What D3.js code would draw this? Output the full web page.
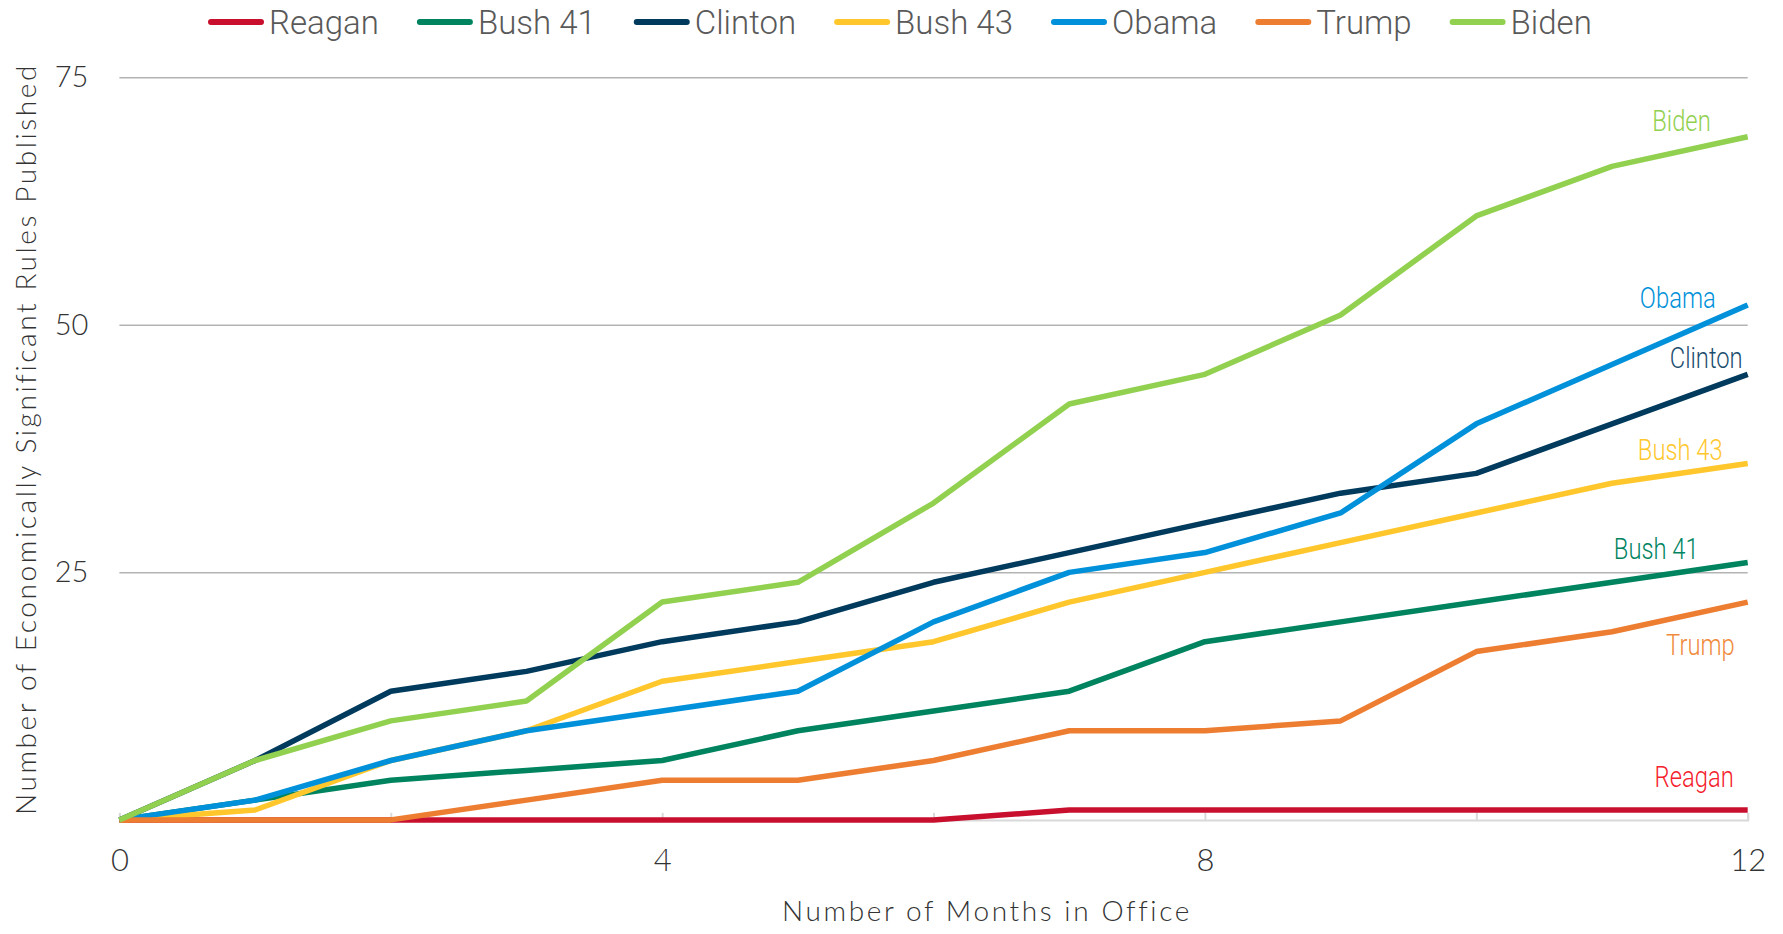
<!DOCTYPE html>
<html lang="en">
<head>
    <meta charset="UTF-8">
    <title>Economically Significant Rules Published</title>
    <script src="https://cdnjs.cloudflare.com/ajax/libs/d3/7.8.5/d3.min.js"></script>
    <style>
        body { margin: 0; background: #fff; }
        svg { display: block; }
        .tick-label { font-family: Lato, sans-serif; font-weight: 300; fill: #333; }
        .title { font-family: Lato, sans-serif; font-weight: 300; fill: #333; font-size: 28px; letter-spacing: 2.6px; }
        .legend text { font-family: Roboto, sans-serif; font-weight: 300; font-size: 33px; fill: #595959; }
        .end-label { font-family: Roboto, sans-serif; font-weight: 300; font-size: 29px; }
    </style>
</head>
<body>
<svg id="chart" width="1783" height="934"></svg>

<script>
    // months in office, 0..12
    const months = [0, 1, 2, 3, 4, 5, 6, 7, 8, 9, 10, 11, 12];

    const presidents = ["Reagan", "Bush 41", "Clinton", "Bush 43", "Obama", "Trump", "Biden"];

    // cumulative economically significant rules
    const reagan  = [0, 0, 0, 0, 0, 0, 0, 1, 1, 1, 1, 1, 1];
    const bush41  = [0, 2, 4, 5, 6, 9, 11, 13, 18, 20, 22, 24, 26];
    const clinton = [0, 6, 13, 15, 18, 20, 24, 27, 30, 33, 35, 40, 45];
    const bush43  = [0, 1, 6, 9, 14, 16, 18, 22, 25, 28, 31, 34, 36];
    const obama   = [0, 2, 6, 9, 11, 13, 20, 25, 27, 31, 40, 46, 52];
    const trump   = [0, 0, 0, 2, 4, 4, 6, 9, 9, 10, 17, 19, 22];
    const biden   = [0, 6, 10, 12, 22, 24, 32, 42, 45, 51, 61, 66, 69];

    const seriesValues = [reagan, bush41, clinton, bush43, obama, trump, biden];

    const xTickLabels = [0, 4, 8, 12];
    const yTickLabels = [25, 50, 75];

    const lineColors  = ["#c8102e", "#00845f", "#003a5d", "#ffc72c", "#0091da", "#ed7d31", "#92d050"];
    const labelColors = ["#f5222d", "#00845f", "#1d4e6f", "#ffc72c", "#0091da", "#f08a3c", "#92d050"];
    // hand placement of the end labels (px from the series end point)
    const labelDx = [-14, -49, -5, -25, -32, -13, -37];
    const labelDy = [-23, -3, -6, -3, 3, 53, -6];

    const svg = d3.select("#chart");
    const x = d3.scaleLinear().domain([0, 12]).range([119.4, 1747.7]);
    const y = d3.scaleLinear().domain([0, 75]).range([819.9, 77.3]);

    // horizontal grid + y labels
    const yAxis = svg.append("g")
        .attr("transform", `translate(${x(0)},0)`)
        .call(d3.axisLeft(y).tickValues(yTickLabels).tickSize(-(x(12) - x(0))).tickPadding(31));
    yAxis.select(".domain").remove();
    yAxis.selectAll(".tick line").attr("stroke", "#b3b3b3").attr("stroke-width", 1.5);
    yAxis.selectAll(".tick text").attr("class", "tick-label").style("font-size", "29px");

    // x axis: minor ticks every 2 months pointing up, labels every 4
    const xAxis = svg.append("g")
        .attr("transform", `translate(0,${y(0)})`)
        .call(d3.axisBottom(x).tickValues(d3.range(0, 13, 2)).tickSize(-7).tickPadding(29)
            .tickFormat(d => xTickLabels.includes(d) ? d : ""));
    xAxis.select(".domain").attr("stroke", "#d9d9d9").attr("stroke-width", 2);
    xAxis.selectAll(".tick line").attr("stroke", "#d9d9d9").attr("stroke-width", 2);
    xAxis.selectAll(".tick text").attr("class", "tick-label").style("font-size", "31px");

    // lines
    const line = d3.line()
        .x((d, i) => x(months[i]))
        .y(d => y(d));

    svg.append("g")
        .selectAll("path")
        .data(seriesValues)
        .enter()
        .append("path")
        .attr("d", d => line(d))
        .attr("fill", "none")
        .attr("stroke", (d, i) => lineColors[i])
        .attr("stroke-width", 5.5)
        .attr("stroke-linejoin", "round");

    // end labels, condensed
    svg.append("g")
        .selectAll("text")
        .data(presidents)
        .enter()
        .append("text")
        .attr("class", "end-label")
        .attr("text-anchor", "end")
        .attr("transform", (d, i) => {
            const vals = seriesValues[i];
            return `translate(${x(12) + labelDx[i]},${y(vals[vals.length - 1]) + labelDy[i]}) scale(0.82,1)`;
        })
        .attr("fill", (d, i) => labelColors[i])
        .text(d => d);

    // legend across the top
    const legend = svg.append("g").attr("class", "legend");
    let lx = 208;
    presidents.forEach((name, i) => {
        const g = legend.append("g").attr("transform", `translate(${lx},22)`);
        g.append("line")
            .attr("x1", 3).attr("x2", 53)
            .attr("stroke", lineColors[i])
            .attr("stroke-width", 6)
            .attr("stroke-linecap", "round");
        const t = g.append("text")
            .attr("x", 61)
            .attr("y", 12)
            .text(name);
        lx += 61 + t.node().getComputedTextLength() + 38;
    });

    // axis titles
    svg.append("text")
        .attr("class", "title")
        .attr("x", 987)
        .attr("y", 921)
        .attr("text-anchor", "middle")
        .text("Number of Months in Office");

    svg.append("text")
        .attr("class", "title")
        .attr("text-anchor", "middle")
        .attr("transform", "translate(36,439) rotate(-90)")
        .text("Number of Economically Significant Rules Published");
</script>
</body>
</html>
